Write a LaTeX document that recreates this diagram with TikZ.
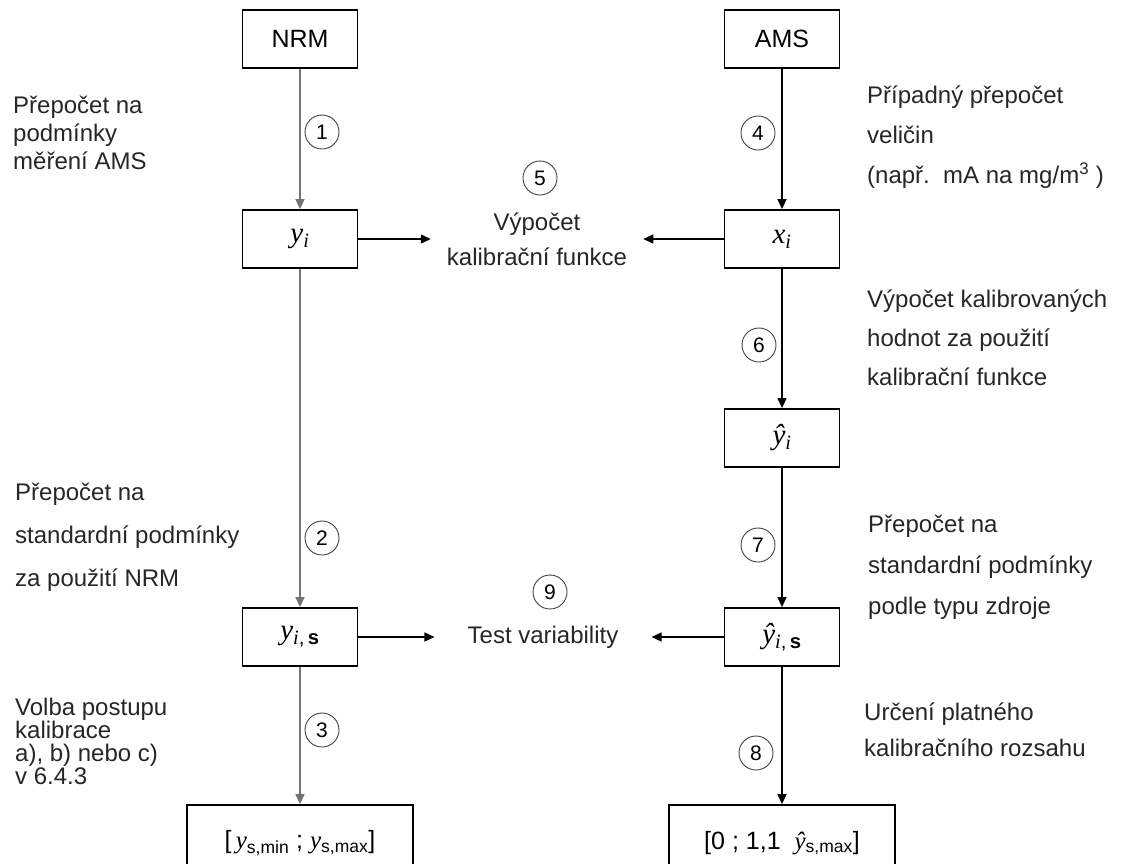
\documentclass[tikz,border=0pt]{standalone}
\usepackage{fontspec}
\setmainfont{Liberation Sans}
\setsansfont{Liberation Sans}
\newfontfamily\serifpis{Liberation Serif}
\usetikzlibrary{arrows.meta}
% promenne psane kurzivou (Times)
\newcommand\prom[1]{{\serifpis\itshape #1}}
\newcommand\dolni[1]{\textsubscript{#1}}

\begin{document}
\begin{tikzpicture}[x=1pt, y=-1pt,
  box/.style={draw, line width=1.8pt, minimum width=115pt, minimum height=58pt,
    inner sep=0pt, font=\fontsize{25}{30}\selectfont},
  promenna/.style={font=\fontsize{29}{32}\selectfont},
  krok/.style={draw=black!75, circle, line width=0.9pt, minimum size=34pt,
    inner sep=0pt, font=\fontsize{21}{24}\selectfont},
  popis/.style={align=left, anchor=west, inner sep=0pt, text=black!85,
    font=\fontsize{24}{#1}\selectfont},
  sipka/.style={line width=1.4pt, -{Triangle[length=10pt,width=9pt]}},
]
% ramec obrazku
\useasboundingbox (0,0) rectangle (1130,863);
\clip (0,0) rectangle (1130,863);

% bloky vlevo (NRM)
\node[box] (nrm) at (300,39) {NRM};
\node[box, promenna] (yi) at (300,239) {\prom{y}\dolni{\prom{i}}};
\node[box, promenna] (yis) at (300,637) {\prom{y}\dolni{\prom{i},\,\textbf{s}}};
\node[box, minimum width=226pt, minimum height=76pt] (lbox) at (300,843)
  {[\,\prom{y}\dolni{s,min} ; \prom{y}\dolni{s,max}]};

% bloky vpravo (AMS)
\node[box] (ams) at (782,39) {AMS};
\node[box, promenna] (xi) at (782,239) {\prom{x}\dolni{\prom{i}}};
\node[box, promenna] (yhi) at (782,438) {\prom{ŷ}\dolni{\prom{i}}};
\node[box, promenna] (yhis) at (782,637) {\prom{ŷ}\dolni{\prom{i},\,\textbf{s}}};
\node[box, minimum width=226pt, minimum height=76pt] (rbox) at (782,843)
  {[0 ; 1,1 \ \prom{ŷ}\dolni{s,max}]};

% stredni texty
\node[align=center, inner xsep=16pt, inner ysep=0pt, text=black!85,
  font=\fontsize{24}{35}\selectfont] (calc) at (537,239)
  {Výpočet\\kalibrační funkce};
\node[inner xsep=33pt, inner ysep=0pt, text=black!85,
  font=\fontsize{24}{28}\selectfont] (test) at (543,637) {Test variability};

% cislovane kroky
\node[krok] (k1) at (322,132) {1};
\node[krok] (k2) at (322,538) {2};
\node[krok] (k3) at (322,730) {3};
\node[krok] (k4) at (758,133) {4};
\node[krok] (k5) at (540,178) {5};
\node[krok] (k6) at (759,345) {6};
\node[krok] (k7) at (758,545) {7};
\node[krok] (k8) at (756,753) {8};
\node[krok] (k9) at (550,592) {9};

% popisy vlevo
\node[popis=28] (t1) at (13,133) {Přepočet na\\podmínky\\měření AMS};
\node[popis=43] (t2) at (15,537) {Přepočet na\\standardní podmínky\\za použití NRM};
\node[popis=23] (t3) at (15,741) {Volba postupu\\kalibrace\\a), b) nebo c)\\v 6.4.3};

% popisy vpravo
\node[popis=40] (t4) at (867,137)
  {Případný přepočet\\veličin\\(např.\ \ mA na mg/m\textsuperscript{3} )};
\node[popis=39] (t6) at (867,338)
  {Výpočet kalibrovaných\\hodnot za použití\\kalibrační funkce};
\node[popis=41] (t7) at (868,567)
  {Přepočet na\\standardní podmínky\\podle typu zdroje};
\node[popis=36] (t8) at (864,730) {Určení platného\\kalibračního rozsahu};

% sipky
\draw[sipka, draw=black!55] (nrm) -- (yi);
\draw[sipka, draw=black!55] (yi) -- (yis);
\draw[sipka, draw=black!55] (yis) -- (lbox);
\draw[sipka] (ams) -- (xi);
\draw[sipka] (xi) -- (yhi);
\draw[sipka] (yhi) -- (yhis);
\draw[sipka] (yhis) -- (rbox);
\draw[sipka] (yi) -- (calc);
\draw[sipka] (xi) -- (calc);
\draw[sipka] (yis) -- (test);
\draw[sipka] (yhis) -- (test);

\end{tikzpicture}
\end{document}
